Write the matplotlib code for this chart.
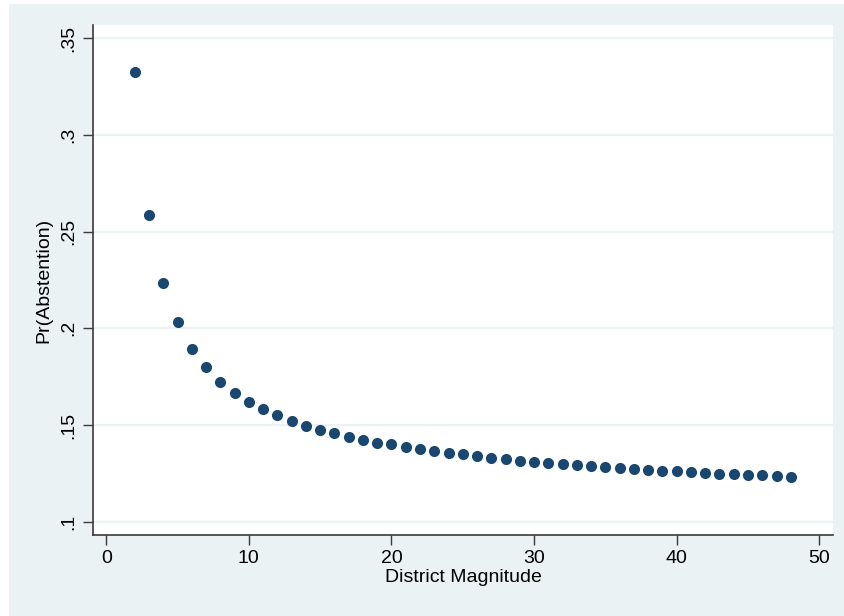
import matplotlib
matplotlib.use("Agg")
import matplotlib.pyplot as plt
from matplotlib.patches import Rectangle

# predicted probability of abstention by district magnitude
magnitude = list(range(2, 49))
pr_abstention = [
    0.3326, 0.2586, 0.2236, 0.2033, 0.1893, 0.1798, 0.1724, 0.1667, 0.1621,
    0.1581, 0.1550, 0.1520, 0.1496, 0.1474, 0.1457, 0.1439, 0.1422, 0.1409,
    0.1400, 0.1385, 0.1376, 0.1364, 0.1355, 0.1349, 0.1340, 0.1331, 0.1324,
    0.1315, 0.1309, 0.1304, 0.1298, 0.1292, 0.1287, 0.1281, 0.1276, 0.1271,
    0.1267, 0.1264, 0.1261, 0.1257, 0.1253, 0.1248, 0.1245, 0.1242, 0.1240,
    0.1236, 0.1233,
]
xticks = [0, 10, 20, 30, 40, 50]
yticks = [0.1, 0.15, 0.2, 0.25, 0.3, 0.35]
yticklabels = [".1", ".15", ".2", ".25", ".3", ".35"]

plt.rcParams["font.family"] = ["Liberation Sans", "DejaVu Sans"]

bg = "#EAF2F3"
navy = "#1A476F"

fig = plt.figure(figsize=(8.44, 6.16), dpi=100, facecolor="white")
# Stata-like outer background, image is cropped at top/left
fig.add_artist(Rectangle((9 / 844, 0), 1 - 9 / 844, 1 - 4 / 616,
                         transform=fig.transFigure, facecolor=bg,
                         edgecolor="none", zorder=-10))

ax = fig.add_axes([93 / 844, 81 / 616, 740 / 844, 510 / 616])
ax.set_zorder(1)
ax.set_facecolor("white")
ax.plot(magnitude, pr_abstention, "o", color=navy, markersize=8,
        markeredgewidth=0, zorder=3)

ax.set_xlim(-0.93, 50.96)
ax.set_ylim(0.0931, 0.3569)
ax.set_xticks(xticks)
ax.set_yticks(yticks)
ax.set_yticklabels(yticklabels, rotation=90, va="center")
ax.grid(axis="y", color=bg, linewidth=1.6)
ax.set_axisbelow(True)

for s in ["top", "right"]:
    ax.spines[s].set_visible(False)
for s in ["left", "bottom"]:
    ax.spines[s].set_color("#3a3a3a")
    ax.spines[s].set_linewidth(1.2)
ax.tick_params(axis="both", length=7, width=1.0, color="#3a3a3a",
               labelsize=14, pad=4)

ax.set_xlabel("District Magnitude", fontsize=14, labelpad=1)
ax.set_ylabel("Pr(Abstention)", fontsize=14, labelpad=6)

fig.savefig("out.png", dpi=100, facecolor=fig.get_facecolor())
